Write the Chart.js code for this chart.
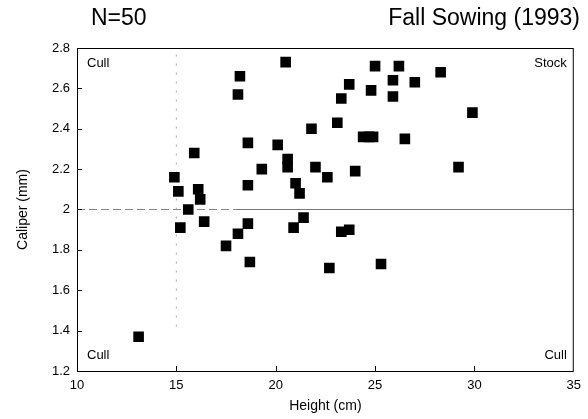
<!DOCTYPE html>
<html>
<head>
<meta charset="utf-8">
<script src="https://cdn.jsdelivr.net/npm/chart.js@4/dist/chart.umd.min.js"></script>
<style>
  html, body { margin: 0; padding: 0; background: #fff; }
  #wrap { width: 588px; height: 419px; }
</style>
</head>
<body>
<div id="wrap"><canvas id="fall-chart" width="588" height="419"></canvas></div>
<script>
// seedling height (cm) and caliper (mm)
const heights = [20.5, 18.2, 18.1, 23.7, 23.3, 23.1, 21.8, 18.6, 20.1, 15.9,
	20.6, 20.6, 19.3, 22.0, 22.6, 14.9, 18.6, 21.0, 21.2, 15.1,
	16.1, 16.2, 15.6, 21.4, 25.0, 26.2, 28.3, 25.9, 27.0, 24.8,
	25.9, 29.9, 24.4, 24.7, 24.9, 26.5, 24.0, 29.2, 15.2, 16.4,
	18.6, 18.1, 17.5, 18.7, 20.9, 23.3, 23.7, 22.7, 25.3, 13.1];
const calipers = [2.73, 2.66, 2.57, 2.62, 2.55, 2.43, 2.40, 2.33, 2.32, 2.28,
	2.25, 2.21, 2.20, 2.21, 2.16, 2.16, 2.12, 2.13, 2.08, 2.09,
	2.10, 2.05, 2.00, 1.96, 2.71, 2.71, 2.68, 2.64, 2.63, 2.59,
	2.56, 2.48, 2.36, 2.36, 2.36, 2.35, 2.19, 2.21, 1.91, 1.94,
	1.93, 1.88, 1.82, 1.74, 1.91, 1.89, 1.90, 1.71, 1.73, 1.37];

const xTicks = [10, 15, 20, 25, 30, 35];
const yTicks = [1.2, 1.4, 1.6, 1.8, 2, 2.2, 2.4, 2.6, 2.8];

// cutoffs for stock / cull
const heightCut = 15;
const caliperCut = 2;

const quadLabels = ['Cull', 'Stock', 'Cull', 'Cull'];
const FONT = '"Liberation Sans", Arial, sans-serif';

const points = heights.map((h, i) => ({ x: h, y: calipers[i] }));

const frame = {
	id: 'frame',
	afterDraw(chart) {
		const c = chart.ctx;
		const a = chart.chartArea;
		const xs = chart.scales.x;
		const ys = chart.scales.y;
		c.save();
		c.strokeStyle = '#000';
		c.lineWidth = 1;
		c.strokeRect(a.left + 0.5, a.top + 0.5, a.right - a.left - 1, a.bottom - a.top);
		// inward tick marks
		c.beginPath();
		xTicks.slice(1, -1).forEach(v => {
			const px = Math.round(xs.getPixelForValue(v)) + 0.5;
			c.moveTo(px, a.bottom);
			c.lineTo(px, a.bottom - 5);
		});
		yTicks.slice(1, -1).forEach(v => {
			const py = Math.round(ys.getPixelForValue(v)) + 0.5;
			c.moveTo(a.left, py);
			c.lineTo(a.left + 5, py);
		});
		c.stroke();

		c.fillStyle = '#000';
		c.font = '13px ' + FONT;
		c.textBaseline = 'middle';
		c.textAlign = 'left';
		c.fillText(quadLabels[0], a.left + 10, a.top + 15);
		c.fillText(quadLabels[2], a.left + 10, a.bottom - 16);
		c.textAlign = 'right';
		c.fillText(quadLabels[1], a.right - 7, a.top + 15);
		c.fillText(quadLabels[3], a.right - 7, a.bottom - 16);

		c.font = '23px ' + FONT;
		c.textAlign = 'left';
		c.fillText('N=50', 91, 19);
		c.textAlign = 'right';
		c.fillText('Fall Sowing (1993)', 580, 19);
		c.restore();
	}
};

const ctx = document.getElementById('fall-chart').getContext('2d');

new Chart(ctx, {
	type: 'scatter',
	data: {
		datasets: [
			{
				data: points,
				backgroundColor: '#000',
				borderColor: '#000',
				pointStyle: 'rect',
				pointRadius: 7.5,
				pointHoverRadius: 7.5,
				borderWidth: 0,
			},
			{
				type: 'line',
				data: [{ x: 10, y: caliperCut }, { x: 18, y: caliperCut }],
				borderColor: '#888',
				borderWidth: 1,
				borderDash: [8, 4],
				pointRadius: 0,
			},
			{
				type: 'line',
				data: [{ x: 18, y: caliperCut }, { x: 35, y: caliperCut }],
				borderColor: '#777',
				borderWidth: 1,
				pointRadius: 0,
			},
			{
				type: 'line',
				data: [{ x: heightCut, y: 1.42 }, { x: heightCut, y: 2.8 }],
				borderColor: '#aaa',
				borderWidth: 1,
				borderDash: [2, 7],
				pointRadius: 0,
			},
		],
	},
	options: {
		responsive: false,
		animation: false,
		layout: { padding: { top: 48, right: 11, left: 0, bottom: 0 } },
		plugins: {
			legend: { display: false },
			tooltip: { enabled: false },
		},
		scales: {
			x: {
				type: 'linear',
				min: 10,
				max: 35,
				afterBuildTicks: s => { s.ticks = xTicks.map(v => ({ value: v })); },
				afterFit: s => { s.height = 48; },
				grid: { display: false, drawTicks: false },
				border: { display: false },
				ticks: { color: '#000', font: { size: 13, family: FONT }, padding: 7, maxRotation: 0 },
				title: { display: true, text: 'Height (cm)', color: '#000', font: { size: 14, family: FONT }, padding: { top: 2, bottom: 4 } },
			},
			y: {
				type: 'linear',
				min: 1.2,
				max: 2.8,
				afterBuildTicks: s => { s.ticks = yTicks.map(v => ({ value: v })); },
				afterFit: s => { s.width = 77; },
				grid: { display: false, drawTicks: false },
				border: { display: false },
				ticks: {
					color: '#000',
					font: { size: 13, family: FONT },
					padding: 7,
					callback: v => String(Math.round(v * 10) / 10),
				},
				title: { display: true, text: 'Caliper (mm)', color: '#000', font: { size: 14, family: FONT }, padding: { top: 15, bottom: 0 } },
			},
		},
	},
	plugins: [frame],
});
</script>
</body>
</html>
